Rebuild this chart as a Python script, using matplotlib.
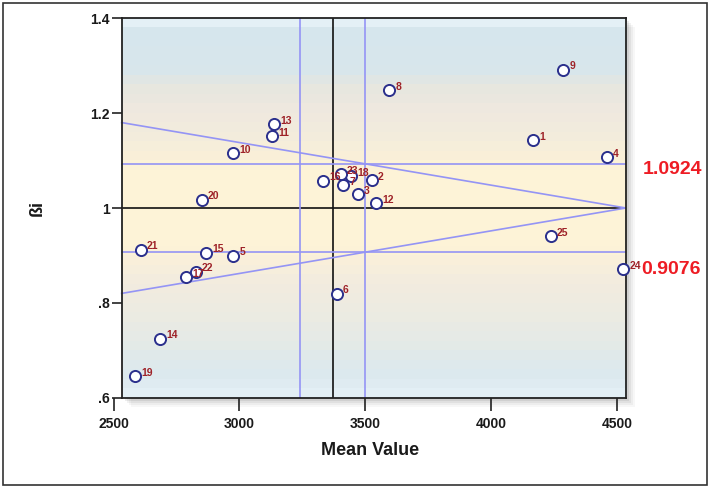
import numpy as np
import matplotlib
matplotlib.use("Agg")
import matplotlib.pyplot as plt
from matplotlib.colors import to_rgb
from matplotlib.patches import Rectangle

# Point data
ids = [1, 2, 3, 4, 5, 6, 7, 8, 9, 10, 11, 12, 13, 14, 15, 16, 17, 18, 19, 20, 21, 22, 23, 24, 25]
mean_value = [4167, 3525, 3470, 4461, 2976, 3386, 3413, 3594, 4287, 2976, 3131, 3544, 3138,
              2684, 2867, 3331, 2788, 3442, 2585, 2850, 2608, 2826, 3402, 4525, 4237]
beta_i = [1.143, 1.059, 1.029, 1.107, 0.899, 0.819, 1.048, 1.248, 1.291, 1.115, 1.151, 1.010, 1.176,
          0.724, 0.906, 1.057, 0.854, 1.067, 0.646, 1.017, 0.912, 0.866, 1.071, 0.871, 0.941]

# Reference lines
grand_mean = 3372
mean_band = [3240, 3497]
beta_band = [0.9076, 1.0924]
diag_x = [2532, 4536]
diag_upper = [1.18, 1.0]
diag_lower = [0.82, 1.0]

xticks = [2500, 3000, 3500, 4000, 4500]
yticks = [0.6, 0.8, 1.0, 1.2, 1.4]
ytick_labels = [".6", ".8", "1", "1.2", "1.4"]

plt.rcParams['font.family'] = ['Liberation Sans Narrow', 'Liberation Sans', 'DejaVu Sans']

W, H = 710, 488
fig = plt.figure(figsize=(W / 100, H / 100), dpi=100)

# outer border
fig.patches.append(Rectangle((3 / W, 3 / H), 704 / W, 482 / H, transform=fig.transFigure,
                             fill=False, edgecolor='#333333', linewidth=1.2))

ax_left, ax_right = 113.6, 626
ax_top, ax_bot = 18.2, 397.8
frame_l = 122
x_lo, x_hi, frame_x = 2500, 4536, 2532

# soft drop shadow behind the plot region
for k, a in enumerate([0.07, 0.05, 0.04, 0.03]):
    off = 3 + k * 2
    fig.patches.append(Rectangle(((frame_l + off) / W, 1 - (ax_bot + off) / H),
                                 (ax_right - frame_l) / W, (ax_bot - ax_top) / H,
                                 transform=fig.transFigure, facecolor='black', alpha=a,
                                 edgecolor='none', zorder=-5))

ax = fig.add_axes([ax_left / W, 1 - ax_bot / H, (ax_right - ax_left) / W, (ax_bot - ax_top) / H])
ax.patch.set_visible(False)

# banded background gradient
stops_y = [1.40, 1.385, 1.30, 1.26, 1.21, 1.16, 1.12, 1.09, 0.91, 0.88, 0.83, 0.76, 0.70, 0.64, 0.60]
stops_c = ['#e4f0f6', '#d6e6ee', '#d8e6ec', '#e7e7df', '#efe9df', '#f3ecdd', '#f8efd9', '#fdf3d7',
           '#fdf3d7', '#f8efdc', '#f2ecdf', '#ebebe3', '#e3eae8', '#dce9ef', '#e3eff5']
rows = np.linspace(1.4, 0.6, 40)
rgb = np.array([to_rgb(c) for c in stops_c])
grad = np.stack([np.interp(-rows, -np.array(stops_y), rgb[:, i]) for i in range(3)], axis=1)
ax.imshow(grad[:, None, :], extent=[frame_x, x_hi, 0.6, 1.4], aspect='auto',
          interpolation='nearest', zorder=0)
ax.set_xlim(x_lo, x_hi)
ax.set_ylim(0.6, 1.4)

line_blue = '#9494f5'
ax.plot([frame_x, x_hi], [1.0, 1.0], color='#111111', lw=1.2, zorder=2)
ax.axvline(grand_mean, color='#111111', lw=1.2, zorder=2)
for b in beta_band:
    ax.plot([frame_x, x_hi], [b, b], color=line_blue, lw=1.2, zorder=2)
for m in mean_band:
    ax.axvline(m, color=line_blue, lw=1.2, zorder=2)
ax.plot(diag_x, diag_upper, color=line_blue, lw=1.2, zorder=2)
ax.plot(diag_x, diag_lower, color=line_blue, lw=1.2, zorder=2)

ax.plot(mean_value, beta_i, 'o', ms=8, mfc='white', mec='#2a2f8c', mew=1.4, zorder=4,
        clip_on=False)
for i, xv, yv in zip(ids, mean_value, beta_i):
    ax.annotate(str(i), (xv, yv), xytext=(4.5, 2.5), textcoords='offset points',
                ha='left', va='center', fontsize=7.5, fontweight='bold', color='#9e2228',
                zorder=5, family=['Liberation Sans', 'DejaVu Sans'])

# band values on the right
ax.text(1.032, 1.0924 - 0.012, "1.0924", transform=ax.get_yaxis_transform(), ha='left',
        va='center', fontsize=14, fontweight='bold', color='#ee1c24', clip_on=False)
ax.text(1.029, 0.9076 - 0.037, "0.9076", transform=ax.get_yaxis_transform(), ha='left',
        va='center', fontsize=14, fontweight='bold', color='#ee1c24', clip_on=False)

for s in ax.spines.values():
    s.set_color('#222222')
    s.set_linewidth(1.3)
ax.spines['left'].set_position(('data', frame_x))
ax.spines['top'].set_bounds(frame_x, x_hi)
ax.spines['bottom'].set_bounds(frame_x, x_hi)
ax.set_xticks(xticks)
ax.set_yticks(yticks)
ax.set_yticklabels(ytick_labels)
ax.tick_params(axis='both', direction='out', color='#222222', width=1.2, labelsize=10,
               labelcolor='#1a1a1a')
ax.tick_params(axis='x', length=9, pad=5)
ax.tick_params(axis='y', length=7, pad=1.5)
for lab in ax.get_xticklabels() + ax.get_yticklabels():
    lab.set_fontweight('bold')

ax.set_xlabel("Mean Value", fontsize=13, fontweight='bold', color='#1a1a1a', labelpad=8)
ax.set_ylabel("ßi", fontsize=13, fontweight='bold', color='#1a1a1a', labelpad=32)

fig.savefig("out.png", dpi=100)
